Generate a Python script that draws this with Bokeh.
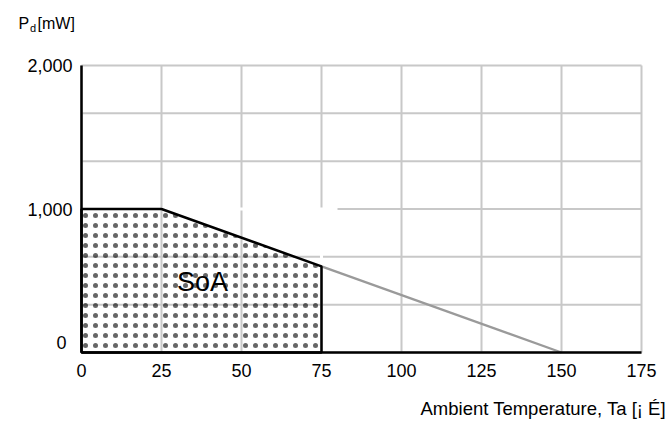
from bokeh.plotting import figure
from bokeh.models import Range1d, FixedTicker, Label
from bokeh.embed import file_html
from bokeh.resources import INLINE

# ---- data ----
x_ticks = [0, 25, 50, 75, 100, 125, 150, 175]
y_ticks = [0, 1000, 2000]
y_tick_labels = ["0", "1,000", "2,000"]
y_grid = [0, 333.33, 666.67, 1000, 1333.33, 1666.67, 2000]

soa_temp = [0, 0, 25, 75, 75]
soa_power = [0, 1000, 1000, 600, 0]

derate_temp = [75, 150]
derate_power = [600, 0]

# white gaps in the grid (as in the reference)
gap_x0 = [25, 75]
gap_x1 = [80, 75]
gap_y0 = [1000, 600]
gap_y1 = [1000, 1000]

soa_label_pos = (37.8, 488)

FONT = "Liberation Sans"
W, H = 670, 423
# plot area inside the canvas (pixels): left, right, top, bottom
L, R, T, B = 81, 641, 65, 352
xmin, xmax = x_ticks[0], x_ticks[-1]
ymin, ymax = y_ticks[0], y_ticks[-1]
kx = (R - L) / (xmax - xmin)
ky = (B - T) / (ymax - ymin)

p = figure(width=W, height=H,
           x_range=Range1d(xmin - L / kx, xmax + (W - R) / kx),
           y_range=Range1d(ymin - (H - B) / ky, ymax + T / ky),
           output_backend="svg", toolbar_location=None, min_border=0)
p.outline_line_color = None
p.background_fill_color = "white"
p.border_fill_color = "white"
p.xgrid.visible = False
p.ygrid.visible = False

# grid lines limited to the plot area
p.segment(x0=x_ticks, y0=[ymin] * len(x_ticks), x1=x_ticks, y1=[ymax] * len(x_ticks),
          line_color="#c8c8c8", line_width=2)
p.segment(x0=[xmin] * len(y_grid), y0=y_grid, x1=[xmax] * len(y_grid), y1=y_grid,
          line_color="#c8c8c8", line_width=2)

# axes fixed at the data origin
p.xaxis.ticker = FixedTicker(ticks=x_ticks)
p.xaxis.fixed_location = ymin
p.xaxis.bounds = (xmin, xmax)
p.yaxis.ticker = FixedTicker(ticks=y_ticks)
p.yaxis.fixed_location = xmin
p.yaxis.bounds = (ymin, ymax)
overrides = {t: l for t, l in zip(y_ticks, y_tick_labels)}
overrides[0] = ""
p.yaxis.major_label_overrides = overrides
for ax in (p.xaxis, p.yaxis):
    ax.axis_line_color = "black"
    ax.axis_line_width = 2.5
    ax.major_tick_line_color = None
    ax.minor_tick_line_color = None
    ax.major_tick_out = 0
    ax.major_tick_in = 0
    ax.minor_tick_out = 0
    ax.major_label_text_font = FONT
    ax.major_label_text_font_size = "18px"
    ax.major_label_text_color = "black"
p.xaxis.major_label_standoff = 11
p.yaxis.major_label_standoff = 9

# white gaps over grid
p.segment(x0=gap_x0, y0=gap_y0, x1=gap_x1, y1=gap_y1, line_color="white", line_width=3)

# derating line (gray)
p.line(derate_temp, derate_power, line_color="#9a9a9a", line_width=2.3)

# SoA region
p.patch(soa_temp, soa_power, fill_alpha=0, hatch_pattern="dot", hatch_color="black",
        hatch_scale=10, hatch_weight=0.6, hatch_alpha=0.6, line_color="black", line_width=2.5)

p.add_layout(Label(x=soa_label_pos[0], y=soa_label_pos[1], text="SoA", text_align="center",
                   text_baseline="middle", text_font=FONT, text_font_size="27px", text_color="black"))

# y "0" label (sits a little above and left of the axis in the reference)
p.add_layout(Label(x=xmin, y=ymin, x_offset=-15, y_offset=10, text=y_tick_labels[0],
                   text_align="right", text_baseline="middle", text_font=FONT,
                   text_font_size="18px", text_color="black"))

# y title P_d[mW]
p.add_layout(Label(x=18, y=400, x_units="screen", y_units="screen", text="P",
                   text_baseline="alphabetic", text_font=FONT, text_font_size="16px", text_color="black"))
p.add_layout(Label(x=29.5, y=396, x_units="screen", y_units="screen", text="d",
                   text_baseline="alphabetic", text_font=FONT, text_font_size="11px", text_color="black"))
p.add_layout(Label(x=37, y=400, x_units="screen", y_units="screen", text="[mW]",
                   text_baseline="alphabetic", text_font=FONT, text_font_size="16px", text_color="black"))

# x title
p.add_layout(Label(x=420, y=15, x_units="screen", y_units="screen", text="Ambient Temperature, Ta [¡ É]",
                   text_baseline="middle", text_font=FONT, text_font_size="18.5px", text_color="black"))

open("out.html", "w").write(file_html(p, INLINE))
